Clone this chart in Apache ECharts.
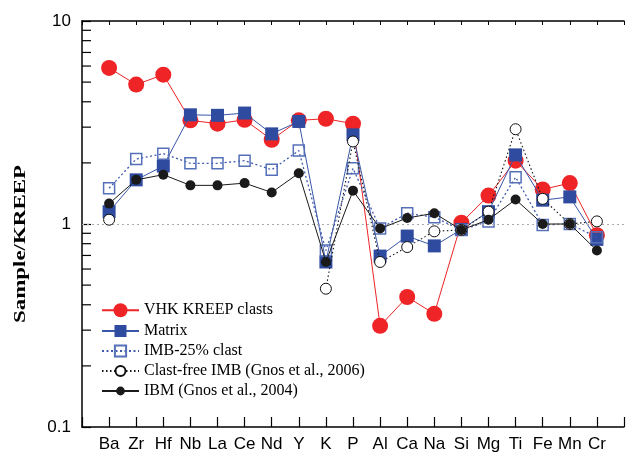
<!DOCTYPE html>
<html>
<head>
<meta charset="utf-8">
<script src="https://cdn.jsdelivr.net/npm/echarts@6/dist/echarts.min.js"></script>
<style>
html,body{margin:0;padding:0;background:#fff;}
#chart{width:627px;height:454px;}
</style>
</head>
<body>
<div id="chart"></div>
<script>
const categories = ['Ba','Zr','Hf','Nb','La','Ce','Nd','Y','K','P','Al','Ca','Na','Si','Mg','Ti','Fe','Mn','Cr'];
const vhkKreep   = [5.87,4.86,5.44,3.24,3.12,3.26,2.60,3.24,3.30,3.12,0.315,0.437,0.361,1.015,1.38,2.05,1.48,1.59,0.88];
const matrix     = [1.15,1.65,1.93,3.45,3.43,3.52,2.78,3.20,0.65,2.75,0.695,0.872,0.78,0.94,1.15,2.19,1.31,1.36,0.84];
const imb25      = [1.50,2.09,2.22,1.99,1.99,2.05,1.85,2.30,0.74,1.88,0.95,1.13,1.08,0.935,1.03,1.70,0.99,1.00,0.86];
const clastFree  = [1.05,null,null,null,null,null,null,null,0.48,2.55,0.65,0.77,0.92,0.935,1.15,2.93,1.33,1.00,1.03];
const ibm        = [1.26,1.65,1.75,1.55,1.55,1.59,1.43,1.78,0.65,1.46,0.95,1.07,1.13,0.935,1.05,1.32,1.00,1.00,0.74];
const seriesNames = ['VHK KREEP clasts','Matrix','IMB-25% clast','Clast-free IMB (Gnos et al., 2006)','IBM (Gnos et al., 2004)'];
const yTickLabels = ['0.1','1','10'];
const minorTicks = [0.2,0.3,0.4,0.5,0.6,0.7,0.8,0.9,2,3,4,5,6,7,8,9];
const yTitle = 'Sample/KREEP';

const toPairs = arr => arr.map((v,i) => [i+1, v === null ? '-' : v]);

const chart = echarts.init(document.getElementById('chart'), null, {renderer:'canvas'});
const sans = 'Liberation Sans, Arial, sans-serif';
const serif = 'Liberation Serif, Times New Roman, serif';

// one legend per entry so each legend symbol can keep its own size
const legendHeights = [17.5, 15, 14, 12.5, 11];
const legendCenters = [311, 331, 351, 371, 391];
const legends = seriesNames.map((n, i) => ({
  orient: 'vertical',
  left: 101,
  top: legendCenters[i] - Math.max(legendHeights[i], 16) / 2,
  itemWidth: 37, itemHeight: legendHeights[i], itemGap: 0,
  padding: 0,
  textStyle: {fontFamily: serif, fontSize: 16, color: '#000'},
  data: [n]
}));

const option = {
  animation: false,
  backgroundColor: '#fff',
  grid: {left: 82, top: 21, width: 552.6, height: 406, containLabel: false},
  legend: legends,
  graphic: [{
    type: 'text', x: 21, y: 244, rotation: Math.PI / 2, scaleX: 1.35,
    style: {text: yTitle, font: 'bold 17px "Liberation Serif", serif', fill: '#000',
      align: 'center', verticalAlign: 'middle'}
  }],
  xAxis: [{
    type: 'value', min: 0, max: 20, interval: 1,
    position: 'bottom',
    splitLine: {show: false},
    axisLine: {onZero: false, lineStyle: {color: '#000', width: 1.5}},
    axisTick: {inside: true, length: 10, lineStyle: {color: '#000', width: 1.2}},
    axisLabel: {
      margin: 9, fontFamily: sans, fontSize: 17, color: '#000',
      formatter: v => categories[v-1] || ''
    }
  },{
    type: 'value', min: 0, max: 20, interval: 1,
    position: 'top',
    splitLine: {show: false},
    axisLine: {onZero: false, lineStyle: {color: '#000', width: 1.5}},
    axisTick: {inside: true, length: 4, lineStyle: {color: '#000', width: 1}},
    axisLabel: {show: false}
  }],
  yAxis: {
    type: 'log', logBase: 10, min: 0.1, max: 10,
    splitLine: {show: false},
    axisLine: {lineStyle: {color: '#000', width: 1.5}},
    axisTick: {inside: true, length: 9, lineStyle: {color: '#000', width: 1.2}},
    axisLabel: {
      margin: 11, fontFamily: sans, fontSize: 17, color: '#000',
      formatter: v => {
        const idx = Math.round(Math.log10(v)) + 1;
        return yTickLabels[idx] !== undefined ? yTickLabels[idx] : '';
      }
    }
  },
  series: [
    {
      type: 'custom', name: 'minorTicks', silent: true, z: 1,
      data: minorTicks.map(v => [0, v]),
      renderItem: (params, api) => {
        const p = api.coord([0, api.value(1)]);
        return {type: 'line', shape: {x1: p[0], y1: p[1], x2: p[0] + 9, y2: p[1]},
          style: {stroke: '#000', lineWidth: 1.2}};
      }
    },
    {
      name: seriesNames[0], type: 'line', data: toPairs(vhkKreep), z: 2,
      symbol: 'circle', symbolSize: 16,
      itemStyle: {color: '#ee2427'},
      lineStyle: {color: '#ee2427', width: 1},
      markLine: {
        silent: true, symbol: 'none', label: {show: false},
        lineStyle: {type: [2, 3], color: '#a8a8a8', width: 1},
        data: [{yAxis: 1}]
      }
    },
    {
      name: seriesNames[1], type: 'line', data: toPairs(matrix), z: 3,
      symbol: 'rect', symbolSize: 13,
      itemStyle: {color: '#2f4b9f'},
      lineStyle: {color: '#3a56a8', width: 1}
    },
    {
      name: seriesNames[2], type: 'line', data: toPairs(imb25), z: 4,
      symbol: 'rect', symbolSize: 11,
      itemStyle: {color: 'rgba(255,255,255,0)', borderColor: '#5570b8', borderWidth: 1.5},
      lineStyle: {color: '#3f5aae', width: 1.3, type: [2, 2.5]}
    },
    {
      name: seriesNames[3], type: 'line', data: toPairs(clastFree), z: 5,
      symbol: 'circle', symbolSize: 11,
      itemStyle: {color: '#fff', borderColor: '#111', borderWidth: 1},
      lineStyle: {color: '#111', width: 1.1, type: [1.5, 2.5]}
    },
    {
      name: seriesNames[4], type: 'line', data: toPairs(ibm), z: 6,
      symbol: 'circle', symbolSize: 10,
      itemStyle: {color: '#1a1a1a'},
      lineStyle: {color: '#1a1a1a', width: 1}
    }
  ]
};
chart.setOption(option);
</script>
</body>
</html>
